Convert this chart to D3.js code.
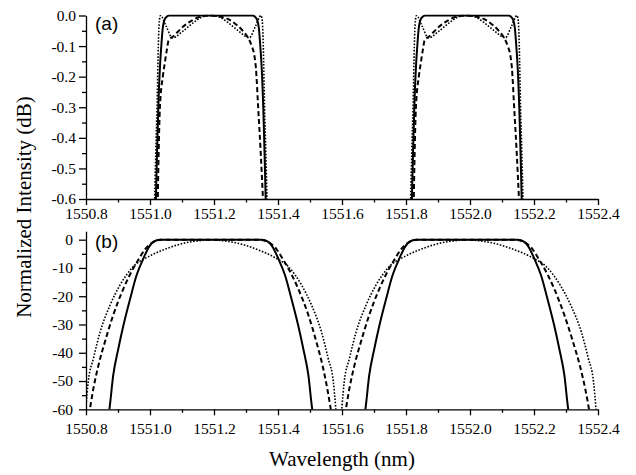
<html lang="en">
  <head>
    <meta charset="UTF-8" />
    <title>Normalized Intensity</title>
  </head>
  <style>
    body { margin: 0; background: #fff; }
    svg text { font-family: "Liberation Serif", "Times New Roman", Times, serif; }
    svg text.panel-name { font-family: "Liberation Sans", Arial, sans-serif; }
  </style>
  <body>
    <script src="https://cdn.jsdelivr.net/npm/d3@7"></script>
    <script>
      // x ticks (nm)
      let xMajor = [1550.8, 1551.0, 1551.2, 1551.4, 1551.6, 1551.8, 1552.0, 1552.2, 1552.4];
      let xMinor = [1550.9, 1551.1, 1551.3, 1551.5, 1551.7, 1551.9, 1552.1, 1552.3];
      let yMajorA = [0, -0.1, -0.2, -0.3, -0.4, -0.5, -0.6];
      let yMinorA = [-0.05, -0.15, -0.25, -0.35, -0.45, -0.55];
      let yMajorB = [0, -10, -20, -30, -40, -50, -60];
      let yMinorB = [-5, -15, -25, -35, -45, -55];

      // panel (a): [wavelength, dB]
      let solidA1 = [[1551.018,-0.62],[1551.022,-0.45],[1551.026,-0.30],[1551.031,-0.17],[1551.036,-0.09],[1551.040,-0.04],[1551.045,-0.015],[1551.052,-0.004],[1551.060,0],[1551.320,0],[1551.328,-0.004],[1551.335,-0.015],[1551.340,-0.04],[1551.344,-0.09],[1551.349,-0.17],[1551.354,-0.30],[1551.358,-0.45],[1551.362,-0.62]];
      let solidA2 = [[1551.818,-0.62],[1551.822,-0.45],[1551.826,-0.30],[1551.831,-0.17],[1551.836,-0.09],[1551.840,-0.04],[1551.845,-0.015],[1551.852,-0.004],[1551.860,0],[1552.120,0],[1552.128,-0.004],[1552.135,-0.015],[1552.140,-0.04],[1552.144,-0.09],[1552.149,-0.17],[1552.154,-0.30],[1552.158,-0.45],[1552.162,-0.62]];
      let dashA1 = [[1551.024,-0.62],[1551.027,-0.45],[1551.031,-0.30],[1551.040,-0.20],[1551.047,-0.15],[1551.053,-0.11],[1551.058,-0.082],[1551.073,-0.068],[1551.104,-0.036],[1551.135,-0.014],[1551.165,-0.002],[1551.190,0],[1551.215,-0.003],[1551.245,-0.012],[1551.270,-0.030],[1551.290,-0.050],[1551.307,-0.074],[1551.318,-0.10],[1551.326,-0.13],[1551.331,-0.172],[1551.338,-0.30],[1551.346,-0.45],[1551.354,-0.62]];
      let dashA2 = [[1551.824,-0.62],[1551.827,-0.45],[1551.831,-0.30],[1551.840,-0.20],[1551.847,-0.15],[1551.853,-0.11],[1551.858,-0.082],[1551.873,-0.068],[1551.904,-0.036],[1551.935,-0.014],[1551.965,-0.002],[1551.990,0],[1552.015,-0.003],[1552.045,-0.012],[1552.070,-0.030],[1552.090,-0.050],[1552.107,-0.074],[1552.118,-0.10],[1552.126,-0.13],[1552.131,-0.172],[1552.138,-0.30],[1552.146,-0.45],[1552.154,-0.62]];
      let dotA1 = [[1551.014,-0.62],[1551.018,-0.45],[1551.022,-0.30],[1551.026,-0.10],[1551.029,-0.02],[1551.033,0],[1551.050,-0.034],[1551.070,-0.073],[1551.104,-0.050],[1551.135,-0.024],[1551.165,-0.004],[1551.190,0],[1551.215,-0.004],[1551.245,-0.024],[1551.276,-0.050],[1551.310,-0.073],[1551.330,-0.034],[1551.347,0],[1551.351,-0.02],[1551.354,-0.10],[1551.358,-0.30],[1551.362,-0.45],[1551.366,-0.62]];
      let dotA2 = [[1551.814,-0.62],[1551.818,-0.45],[1551.822,-0.30],[1551.826,-0.10],[1551.829,-0.02],[1551.833,0],[1551.850,-0.034],[1551.870,-0.073],[1551.904,-0.050],[1551.935,-0.024],[1551.965,-0.004],[1551.990,0],[1552.015,-0.004],[1552.045,-0.024],[1552.076,-0.050],[1552.110,-0.073],[1552.130,-0.034],[1552.147,0],[1552.151,-0.02],[1552.154,-0.10],[1552.158,-0.30],[1552.162,-0.45],[1552.166,-0.62]];

      // panel (b): [wavelength, dB]
      let solidB1 = [[1550.870,-62],[1550.873,-60],[1550.885,-48],[1550.901,-38.6],[1550.917,-30.3],[1550.938,-20.9],[1550.958,-12.6],[1550.979,-6.7],[1551.000,-2.0],[1551.013,-0.6],[1551.030,-0.05],[1551.050,0],[1551.330,0],[1551.350,-0.05],[1551.367,-0.6],[1551.380,-2.0],[1551.401,-6.7],[1551.422,-12.6],[1551.442,-20.9],[1551.463,-30.3],[1551.479,-38.6],[1551.495,-48],[1551.507,-60],[1551.510,-62]];
      let solidB2 = [[1551.670,-62],[1551.673,-60],[1551.685,-48],[1551.701,-38.6],[1551.717,-30.3],[1551.738,-20.9],[1551.758,-12.6],[1551.779,-6.7],[1551.800,-2.0],[1551.813,-0.6],[1551.830,-0.05],[1551.850,0],[1552.130,0],[1552.150,-0.05],[1552.167,-0.6],[1552.180,-2.0],[1552.201,-6.7],[1552.222,-12.6],[1552.242,-20.9],[1552.263,-30.3],[1552.279,-38.6],[1552.295,-48],[1552.307,-60],[1552.310,-62]];
      let dashB1 = [[1550.809,-62],[1550.812,-60],[1550.823,-52.7],[1550.839,-44.4],[1550.859,-36.2],[1550.885,-26.7],[1550.917,-17.3],[1550.953,-9.1],[1550.969,-6.1],[1550.985,-3.3],[1551.000,-1.6],[1551.016,-0.5],[1551.035,-0.05],[1551.060,0],[1551.320,0],[1551.345,-0.05],[1551.364,-0.5],[1551.380,-1.6],[1551.395,-3.3],[1551.411,-6.1],[1551.427,-9.1],[1551.463,-17.3],[1551.495,-26.7],[1551.520,-36.2],[1551.539,-44.4],[1551.554,-52.7],[1551.565,-60],[1551.568,-62]];
      let dashB2 = [[1551.609,-62],[1551.612,-60],[1551.623,-52.7],[1551.639,-44.4],[1551.659,-36.2],[1551.685,-26.7],[1551.717,-17.3],[1551.753,-9.1],[1551.769,-6.1],[1551.785,-3.3],[1551.800,-1.6],[1551.816,-0.5],[1551.835,-0.05],[1551.860,0],[1552.120,0],[1552.145,-0.05],[1552.164,-0.5],[1552.180,-1.6],[1552.195,-3.3],[1552.211,-6.1],[1552.227,-9.1],[1552.263,-17.3],[1552.295,-26.7],[1552.322,-36.2],[1552.343,-44.4],[1552.360,-52.7],[1552.372,-60],[1552.375,-62]];
      let dotB1 = [[1550.798,-62],[1550.800,-59],[1550.807,-50.3],[1550.823,-42.1],[1550.844,-32.7],[1550.875,-23.2],[1550.906,-16.1],[1550.948,-9.5],[1550.990,-6.3],[1551.042,-3.6],[1551.104,-1.3],[1551.167,-0.2],[1551.190,0],[1551.213,-0.2],[1551.276,-1.3],[1551.338,-3.6],[1551.390,-6.3],[1551.432,-9.5],[1551.474,-16.1],[1551.505,-23.2],[1551.536,-32.7],[1551.557,-42.1],[1551.573,-50.3],[1551.580,-59],[1551.582,-62]];
      let dotB2 = [[1551.598,-62],[1551.600,-59],[1551.607,-50.3],[1551.623,-42.1],[1551.644,-32.7],[1551.675,-23.2],[1551.706,-16.1],[1551.748,-9.5],[1551.790,-6.3],[1551.842,-3.6],[1551.904,-1.3],[1551.967,-0.2],[1551.990,0],[1552.013,-0.2],[1552.076,-1.3],[1552.140,-3.6],[1552.194,-6.3],[1552.238,-9.5],[1552.282,-16.1],[1552.315,-23.2],[1552.348,-32.7],[1552.370,-42.1],[1552.386,-50.3],[1552.393,-59],[1552.395,-62]];

      let width = 636;
      let height = 475;
      let serif = "'Liberation Serif', 'Times New Roman', Times, serif";
      let svg = d3.select("body")
          .append("svg")
          .attr("width", width)
          .attr("height", height);

      let x = d3.scaleLinear().domain([1550.8, 1552.4]).range([86, 598]);
      let yA = d3.scaleLinear().domain([-0.6, 0]).range([199, 15.5]);
      let yB = d3.scaleLinear().domain([-60, 3]).range([409.3, 231.2]);

      let styles = {
        solid: { w: 2, dash: null },
        dash: { w: 2, dash: "5,3" },
        dot: { w: 1.6, dash: "1.6,1.6" }
      };

      function panel(y, yMajor, yMinor, fmt, labelPad, xPad, series, name, nameY) {
        let clipId = "clip" + name.replace(/[()]/g, "");
        svg.append("clipPath").attr("id", clipId)
          .append("rect")
          .attr("x", x.range()[0]).attr("y", y.range()[1] - 1)
          .attr("width", x.range()[1] - x.range()[0])
          .attr("height", y.range()[0] - y.range()[1] + 1);

        let g = svg.append("g").attr("clip-path", "url(#" + clipId + ")");
        series.forEach(s => {
          let line = d3.line()
            .x(d => x(d[0]))
            .y(d => y(d[1]))
            .curve(d3.curveMonotoneX);
          g.append("path")
            .datum(s.data)
            .attr("d", line)
            .attr("fill", "none")
            .attr("stroke", "#000")
            .attr("stroke-width", styles[s.style].w)
            .attr("stroke-dasharray", styles[s.style].dash);
        });

        // minor ticks
        svg.append("g")
          .attr("transform", "translate(86,0)")
          .call(d3.axisLeft(y).tickValues(yMinor).tickSize(4).tickSizeOuter(0).tickFormat(""))
          .call(a => a.select(".domain").remove());
        svg.append("g")
          .attr("transform", "translate(0," + y.range()[0] + ")")
          .call(d3.axisBottom(x).tickValues(xMinor).tickSize(3.5).tickSizeOuter(0).tickFormat(""))
          .call(a => a.select(".domain").remove());

        let ya = svg.append("g")
          .attr("transform", "translate(86,0)")
          .call(d3.axisLeft(y).tickValues(yMajor).tickSize(7).tickSizeOuter(0).tickPadding(labelPad)
            .tickFormat(fmt))
          .attr("font-family", serif);
        ya.selectAll("text").attr("font-size", "15.5px").attr("fill", "#000")
          .style("font-family", serif);

        let xa = svg.append("g")
          .attr("transform", "translate(0," + y.range()[0] + ")")
          .call(d3.axisBottom(x).tickValues(xMajor).tickSize(6).tickSizeOuter(0).tickPadding(xPad)
            .tickFormat(d3.format(".1f")))
          .attr("font-family", serif);
        xa.selectAll("text").attr("font-size", "15.5px").attr("fill", "#000")
          .style("font-family", serif);

        svg.selectAll(".domain, .tick line").attr("stroke", "#000").attr("stroke-width", 1.3);

        svg.append("text")
          .attr("class", "panel-name")
          .attr("x", 95).attr("y", nameY)
          .attr("font-size", "19px")
          .text(name);
      }

      panel(yA, yMajorA, yMinorA, d => d3.format(".1f")(d).replace("−", "-"), 3, 2.5, [
        { data: solidA1, style: "solid" }, { data: solidA2, style: "solid" },
        { data: dashA1, style: "dash" }, { data: dashA2, style: "dash" },
        { data: dotA1, style: "dot" }, { data: dotA2, style: "dot" }
      ], "(a)", 30);

      panel(yB, yMajorB, yMinorB, d => String(d), 6, 8, [
        { data: solidB1, style: "solid" }, { data: solidB2, style: "solid" },
        { data: dashB1, style: "dash" }, { data: dashB2, style: "dash" },
        { data: dotB1, style: "dot" }, { data: dotB2, style: "dot" }
      ], "(b)", 248);

      svg.append("text")
        .attr("transform", "translate(31,207) rotate(-90)")
        .attr("text-anchor", "middle")
        .attr("font-size", "21px")
        .style("font-family", serif)
        .text("Normalized Intensity (dB)");

      svg.append("text")
        .attr("x", 342).attr("y", 466)
        .attr("text-anchor", "middle")
        .attr("font-size", "21px")
        .style("font-family", serif)
        .text("Wavelength (nm)");
    </script>
  </body>
</html>
